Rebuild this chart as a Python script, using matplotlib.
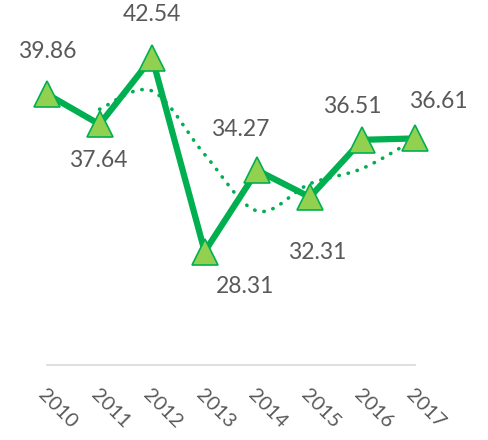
import numpy as np
import matplotlib.pyplot as plt
from matplotlib.path import Path
from matplotlib.patches import PathPatch

# === Data ===
years = ["2010", "2011", "2012", "2013", "2014", "2015", "2016", "2017"]
values = [39.86, 37.64, 42.54, 28.31, 34.27, 32.31, 36.51, 36.61]
# dotted trendline (2-period moving average), read from 2011 on
trend_years = ["2011", "2012", "2013", "2014", "2015", "2016", "2017"]
trend_values = [38.75, 40.09, 35.43, 31.29, 33.29, 34.41, 36.56]

# label offsets from the marker, in pixels (x right, y up)
label_dx = [0, -1, 0, 40, -17, 7, -10, 23]
label_dy = [43, -36, 43, -35, 41, -55, 33, 37]

line_green = "#00B050"
marker_green = "#92D050"
text_grey = "#595959"
fonts = ["Lato", "DejaVu Sans"]

fig = plt.figure(figsize=(4.88, 4.4), dpi=100)
ax = fig.add_axes([47 / 488, 75 / 440, 368 / 488, 341 / 440])

x = np.arange(len(years))
tx = np.array([years.index(y) for y in trend_years])

# smoothed dotted trendline (Catmull-Rom as cubic bezier)
pts = np.column_stack([tx, trend_values])
verts = [pts[0]]
codes = [Path.MOVETO]
for i in range(len(pts) - 1):
    p0 = pts[i - 1] if i > 0 else pts[i]
    p1, p2 = pts[i], pts[i + 1]
    p3 = pts[i + 2] if i + 2 < len(pts) else pts[i + 1]
    c1 = p1 + (p2 - p0) / 6
    c2 = p2 - (p3 - p1) / 6
    verts += [c1, c2, p2]
    codes += [Path.CURVE4] * 3
ax.add_patch(PathPatch(Path(verts, codes), fill=False, edgecolor=line_green,
                       lw=2.6, linestyle=(0, (0.1, 2.5)), capstyle="round",
                       zorder=2, clip_on=False))

ax.plot(x, values, color=line_green, lw=4.5, solid_joinstyle="miter",
        zorder=3, clip_on=False)
ax.plot(x, values, linestyle="none", marker="^", markersize=19,
        markerfacecolor=marker_green, markeredgecolor=line_green,
        markeredgewidth=1.2, zorder=4, clip_on=False)

for xi, v, dx, dy in zip(x, values, label_dx, label_dy):
    ax.annotate(f"{v:.2f}", (xi, v), xytext=(dx, dy), textcoords="offset pixels",
                ha="center", va="center", fontsize=16.5, color=text_grey,
                family=fonts, zorder=5, annotation_clip=False)

ax.set_xlim(0, len(years) - 1)
ax.set_ylim(20, 45)
ax.set_yticks([])
ax.set_xticks(x)
ax.set_xticklabels(years, rotation=-45, ha="left", va="top", rotation_mode="anchor",
                   fontsize=14.5, color=text_grey, family=fonts)
ax.tick_params(axis="x", length=0, pad=15)
for side in ["top", "left", "right"]:
    ax.spines[side].set_visible(False)
ax.spines["bottom"].set_color("#D9D9D9")
ax.spines["bottom"].set_linewidth(1.2)
ax.patch.set_alpha(0)

fig.savefig("out.png", dpi=100)
